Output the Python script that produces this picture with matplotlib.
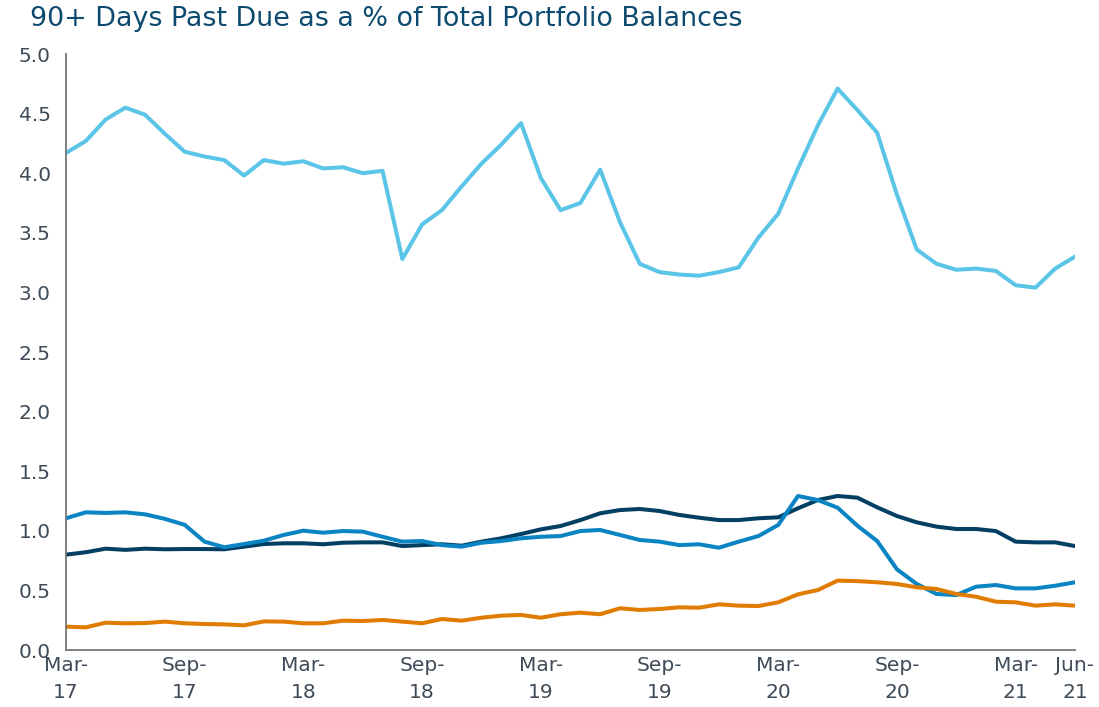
import matplotlib.pyplot as plt

# monthly, Mar-17 .. Jun-21
months = list(range(52))

light_blue = [4.17, 4.27, 4.45, 4.55, 4.49, 4.33, 4.18, 4.14, 4.11, 3.98,
              4.11, 4.08, 4.10, 4.04, 4.05, 4.00, 4.02, 3.28, 3.57, 3.69,
              3.89, 4.08, 4.24, 4.42, 3.96, 3.69, 3.75, 4.03, 3.59, 3.24,
              3.17, 3.15, 3.14, 3.17, 3.21, 3.46, 3.66, 4.04, 4.40, 4.71,
              4.53, 4.34, 3.82, 3.36, 3.24, 3.19, 3.20, 3.18, 3.06, 3.04,
              3.20, 3.30]

navy = [0.80, 0.82, 0.85, 0.84, 0.85, 0.845, 0.847, 0.847, 0.845, 0.867,
        0.889, 0.895, 0.895, 0.887, 0.90, 0.903, 0.903, 0.872, 0.88, 0.887,
        0.875, 0.909, 0.937, 0.973, 1.012, 1.04, 1.09, 1.147, 1.174, 1.183,
        1.166, 1.133, 1.11, 1.09, 1.09, 1.105, 1.113, 1.189, 1.258, 1.292,
        1.278, 1.197, 1.124, 1.071, 1.035, 1.015, 1.015, 0.998, 0.909, 0.903,
        0.903, 0.872]

mid_blue = [1.105, 1.155, 1.15, 1.155, 1.138, 1.10, 1.05, 0.909, 0.862, 0.889,
            0.917, 0.965, 1.001, 0.984, 0.998, 0.993, 0.95, 0.909, 0.914, 0.88,
            0.867, 0.90, 0.914, 0.937, 0.95, 0.956, 0.998, 1.007, 0.965, 0.923,
            0.909, 0.88, 0.887, 0.858, 0.909, 0.956, 1.049, 1.292, 1.258, 1.194,
            1.043, 0.914, 0.677, 0.554, 0.47, 0.461, 0.531, 0.545, 0.517, 0.517,
            0.539, 0.568]

orange = [0.196, 0.19, 0.229, 0.224, 0.226, 0.238, 0.224, 0.218, 0.215, 0.207,
          0.24, 0.238, 0.224, 0.224, 0.246, 0.243, 0.252, 0.238, 0.224, 0.26,
          0.246, 0.271, 0.288, 0.294, 0.271, 0.30, 0.313, 0.30, 0.35, 0.336,
          0.344, 0.358, 0.355, 0.383, 0.372, 0.369, 0.40, 0.467, 0.503, 0.582,
          0.578, 0.568, 0.554, 0.526, 0.512, 0.47, 0.447, 0.405, 0.40, 0.372,
          0.383, 0.372]

tick_pos = [0, 6, 12, 18, 24, 30, 36, 42, 48, 51]
tick_labels = ["Mar-\n17", "Sep-\n17", "Mar-\n18", "Sep-\n18", "Mar-\n19",
               "Sep-\n19", "Mar-\n20", "Sep-\n20", "Mar-\n21", "Jun-\n21"]

text_color = "#3f4b58"

fig = plt.figure(figsize=(10.99, 7.07), dpi=100)
ax = fig.add_axes([66 / 1099, 1 - 650 / 707, (1075 - 66) / 1099, (650 - 54) / 707])

lw = 2.9
ax.plot(months, navy, color="#033f63", lw=lw)
ax.plot(months, mid_blue, color="#0a84c2", lw=lw)
ax.plot(months, orange, color="#e07c00", lw=lw)
ax.plot(months, light_blue, color="#5bc5e8", lw=lw)

ax.set_xlim(0, 51)
ax.set_ylim(0, 5)
ax.set_yticks([i * 0.5 for i in range(11)])
ax.set_yticklabels([f"{i * 0.5:.1f}" for i in range(11)])
ax.set_xticks(tick_pos)
ax.set_xticklabels(tick_labels, linespacing=1.55)

for s in ["top", "right"]:
    ax.spines[s].set_visible(False)
for s in ["left", "bottom"]:
    ax.spines[s].set_color("#767676")
    ax.spines[s].set_linewidth(1.3)

ax.tick_params(length=0, labelsize=14.5, colors=text_color)
ax.tick_params(axis="y", pad=11)
ax.tick_params(axis="x", pad=4)

fig.text(30 / 1099, 1 - 19 / 707, "90+ Days Past Due as a % of Total Portfolio Balances",
         fontsize=19.4, color="#0d4a70", va="center", ha="left")

fig.savefig("out.png", dpi=100)
